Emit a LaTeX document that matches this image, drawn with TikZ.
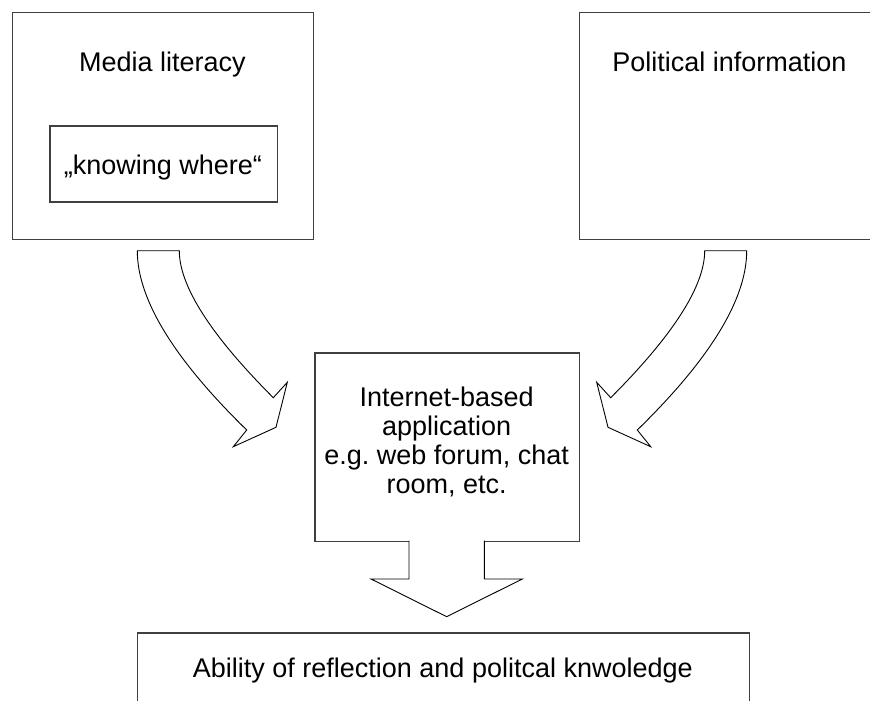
\documentclass[tikz,border=0pt]{standalone}
\usepackage{fontspec}
\setmainfont{Liberation Sans}
\begin{document}
\frenchspacing
\begin{tikzpicture}[x=1pt,y=-1pt,
  box/.style={draw=black!75,line width=1.2pt,fill=white,inner sep=0pt,anchor=north west},
  lbl/.style={inner sep=0pt,font=\frenchspacing\fontsize{27}{28.9}\selectfont,text=black},
  bigarrow/.style={draw=black,line width=0.9pt,fill=white,line join=miter}]
\clip (0,0) rectangle (870,701);
\fill[white] (0,0) rectangle (870,701);
% boxes
\node[box,minimum width=301pt,minimum height=227pt] (media) at (12,12) {};
\node[box,minimum width=227.4pt,minimum height=76pt] (know) at (49.3,125.3) {};
\node[box,minimum width=301pt,minimum height=227pt] (polit) at (579,12) {};
\node[box,minimum width=264.7pt,minimum height=188.4pt] (inet) at (314.3,352.3) {};
\node[box,minimum width=612.3pt,minimum height=120pt] (abil) at (136.7,632.3) {};
% labels
\node[lbl,anchor=base] (tmedia) at (162.5,72) {Media literacy};
\node[lbl,anchor=base] (tknow) at (163,174) {„knowing where“};
\node[lbl,anchor=base] (tpolit) at (729.5,72) {Political information};
\node[lbl,anchor=north,align=center] (tinet) at (446.7,387) {Internet-based\\application\\e.g.\ web forum, chat\\room, etc.};
\node[lbl,anchor=base] (tabil) at (442.8,677.3) {Ability of reflection and politcal knwoledge};
% curved arrow left
\draw[bigarrow] (137.3,250.7) -- (179.3,250.7)
  .. controls (179.3,290) and (218.3,342.7) .. (273.3,397.7)
  -- (287.3,382.3) -- (276,427.3) -- (233.3,446.7) -- (246.7,430)
  .. controls (175,360) and (137.3,300) .. (137.3,250.7) -- cycle;
% curved arrow right (mirror about x=442)
\draw[bigarrow] (746.7,250.7) -- (704.7,250.7)
  .. controls (704.7,290) and (665.7,342.7) .. (610.7,397.7)
  -- (596.7,382.3) -- (608,427.3) -- (650.7,446.7) -- (637.3,430)
  .. controls (709,360) and (746.7,300) .. (746.7,250.7) -- cycle;
% down arrow
\coordinate (tip) at (446.7,616.7);
\draw[bigarrow] (409,540.7) -- (409,579) -- (371,579) -- (tip) -- (522.3,579) -- (484.3,579) -- (484.3,540.7);
\end{tikzpicture}
\end{document}
